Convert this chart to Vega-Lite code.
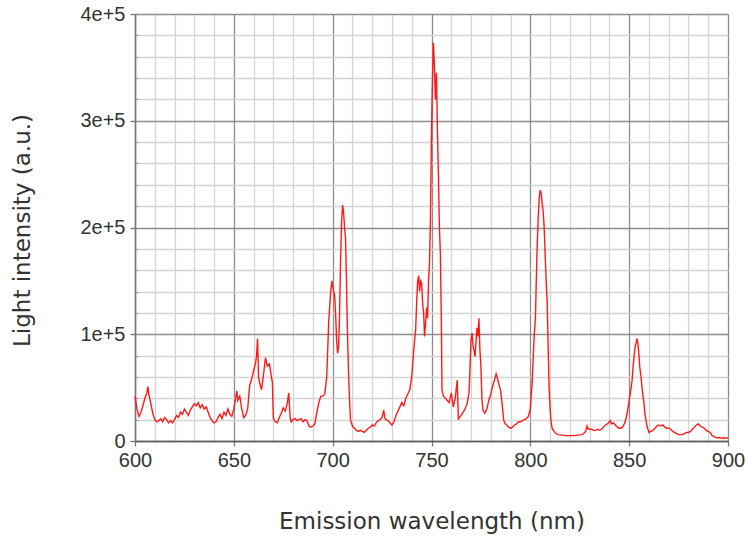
{
  "$schema": "https://vega.github.io/schema/vega-lite/v6.json",
  "autosize": "none",
  "width": 593,
  "height": 427,
  "padding": {"left": 135, "top": 14, "right": 21, "bottom": 97},
  "background": "white",
  "config": {
    "view": {"stroke": null},
    "axis": {"labelFont": "Liberation Sans", "labelFontSize": 20, "labelColor": "#333333", "titleFont": "DejaVu Sans", "titleFontSize": 23, "titleFontWeight": "normal", "titleColor": "#333333", "labelFlush": false, "labelOverlap": false}
  },
  "data": {"values": [
    {"nm":600,"i":42000},{"nm":601,"i":30000},{"nm":602,"i":23000},{"nm":603,"i":27000},{"nm":604,"i":33000},{"nm":605,"i":40000},{"nm":606,"i":45000},{"nm":606.5,"i":51000},{"nm":607,"i":44000},{"nm":608,"i":35000},{"nm":609,"i":26000},{"nm":610,"i":20000},{"nm":611,"i":18000},{"nm":612,"i":19000},{"nm":613,"i":21000},{"nm":614,"i":18000},{"nm":615,"i":22000},{"nm":616,"i":20000},{"nm":617,"i":17000},{"nm":618,"i":19000},{"nm":619,"i":17000},{"nm":620,"i":20000},{"nm":621,"i":24000},{"nm":622,"i":22000},{"nm":623,"i":27000},{"nm":624,"i":25000},{"nm":625,"i":30000},{"nm":626,"i":27000},{"nm":627,"i":24000},{"nm":628,"i":29000},{"nm":629,"i":32000},{"nm":630,"i":35000},{"nm":631,"i":33000},{"nm":632,"i":36000},{"nm":633,"i":31000},{"nm":634,"i":34000},{"nm":635,"i":30000},{"nm":636,"i":32000},{"nm":637,"i":27000},{"nm":638,"i":22000},{"nm":639,"i":19000},{"nm":640,"i":17000},{"nm":641,"i":18000},{"nm":642,"i":22000},{"nm":643,"i":25000},{"nm":644,"i":21000},{"nm":645,"i":27000},{"nm":646,"i":24000},{"nm":647,"i":30000},{"nm":648,"i":25000},{"nm":649,"i":23000},{"nm":650,"i":30000},{"nm":651,"i":41000},{"nm":651.5,"i":47000},{"nm":652,"i":38000},{"nm":653,"i":42000},{"nm":654,"i":30000},{"nm":655,"i":22000},{"nm":656,"i":24000},{"nm":657,"i":30000},{"nm":658,"i":52000},{"nm":659,"i":58000},{"nm":660,"i":66000},{"nm":661,"i":73000},{"nm":661.5,"i":80000},{"nm":662,"i":96000},{"nm":662.5,"i":60000},{"nm":663,"i":55000},{"nm":664,"i":48000},{"nm":665,"i":62000},{"nm":666,"i":78000},{"nm":667,"i":70000},{"nm":668,"i":72000},{"nm":669,"i":60000},{"nm":669.5,"i":55000},{"nm":670,"i":21000},{"nm":671,"i":18000},{"nm":672,"i":17000},{"nm":673,"i":22000},{"nm":674,"i":26000},{"nm":675,"i":31000},{"nm":676,"i":28000},{"nm":677,"i":35000},{"nm":677.8,"i":45000},{"nm":678.5,"i":22000},{"nm":679,"i":18000},{"nm":680,"i":20000},{"nm":681,"i":21000},{"nm":682,"i":19000},{"nm":683,"i":20000},{"nm":684,"i":21000},{"nm":685,"i":18000},{"nm":686,"i":20000},{"nm":687,"i":19000},{"nm":688,"i":14000},{"nm":689,"i":13000},{"nm":690,"i":14000},{"nm":691,"i":16000},{"nm":692,"i":27000},{"nm":693,"i":36000},{"nm":694,"i":42000},{"nm":695,"i":42000},{"nm":696,"i":44000},{"nm":697,"i":60000},{"nm":698,"i":112000},{"nm":699,"i":140000},{"nm":699.6,"i":150000},{"nm":700,"i":145000},{"nm":700.5,"i":140000},{"nm":701,"i":137000},{"nm":701.5,"i":118000},{"nm":702,"i":95000},{"nm":702.5,"i":82000},{"nm":703,"i":88000},{"nm":703.5,"i":120000},{"nm":704,"i":170000},{"nm":704.5,"i":205000},{"nm":705,"i":221000},{"nm":705.5,"i":215000},{"nm":706,"i":200000},{"nm":706.5,"i":190000},{"nm":707,"i":150000},{"nm":707.5,"i":100000},{"nm":708,"i":66000},{"nm":708.5,"i":40000},{"nm":709,"i":20000},{"nm":710,"i":14000},{"nm":711,"i":12000},{"nm":712,"i":10000},{"nm":713,"i":9000},{"nm":714,"i":10000},{"nm":715,"i":9000},{"nm":716,"i":8000},{"nm":717,"i":10000},{"nm":718,"i":12000},{"nm":719,"i":13000},{"nm":720,"i":15000},{"nm":721,"i":14000},{"nm":722,"i":17000},{"nm":723,"i":19000},{"nm":724,"i":20000},{"nm":725,"i":22000},{"nm":725.8,"i":29000},{"nm":726.5,"i":21000},{"nm":727,"i":20000},{"nm":728,"i":19000},{"nm":729,"i":17000},{"nm":730,"i":15000},{"nm":731,"i":18000},{"nm":732,"i":24000},{"nm":733,"i":28000},{"nm":734,"i":32000},{"nm":735,"i":36000},{"nm":736,"i":33000},{"nm":737,"i":40000},{"nm":738,"i":44000},{"nm":739,"i":48000},{"nm":740,"i":60000},{"nm":741,"i":85000},{"nm":742,"i":105000},{"nm":742.5,"i":130000},{"nm":743,"i":150000},{"nm":743.5,"i":155000},{"nm":744,"i":140000},{"nm":744.5,"i":150000},{"nm":745,"i":148000},{"nm":745.5,"i":130000},{"nm":746,"i":120000},{"nm":746.5,"i":98000},{"nm":747,"i":110000},{"nm":747.5,"i":125000},{"nm":748,"i":115000},{"nm":748.5,"i":150000},{"nm":749,"i":167000},{"nm":749.5,"i":210000},{"nm":750,"i":290000},{"nm":750.5,"i":340000},{"nm":751,"i":373000},{"nm":751.5,"i":350000},{"nm":752,"i":320000},{"nm":752.5,"i":345000},{"nm":753,"i":290000},{"nm":753.5,"i":250000},{"nm":754,"i":200000},{"nm":754.5,"i":175000},{"nm":755,"i":110000},{"nm":755.3,"i":48000},{"nm":756,"i":42000},{"nm":757,"i":40000},{"nm":758,"i":38000},{"nm":759,"i":36000},{"nm":760,"i":45000},{"nm":761,"i":32000},{"nm":762,"i":40000},{"nm":763,"i":57000},{"nm":763.6,"i":20000},{"nm":764,"i":22000},{"nm":765,"i":24000},{"nm":766,"i":27000},{"nm":767,"i":30000},{"nm":768,"i":35000},{"nm":769,"i":45000},{"nm":769.5,"i":70000},{"nm":770,"i":95000},{"nm":770.5,"i":101000},{"nm":771,"i":90000},{"nm":771.5,"i":85000},{"nm":772,"i":79000},{"nm":772.5,"i":92000},{"nm":773,"i":106000},{"nm":773.5,"i":98000},{"nm":774,"i":115000},{"nm":774.5,"i":85000},{"nm":775,"i":70000},{"nm":775.5,"i":40000},{"nm":776,"i":29000},{"nm":777,"i":26000},{"nm":778,"i":30000},{"nm":779,"i":38000},{"nm":780,"i":44000},{"nm":781,"i":52000},{"nm":782,"i":58000},{"nm":782.7,"i":63000},{"nm":783.5,"i":58000},{"nm":784,"i":54000},{"nm":785,"i":47000},{"nm":786,"i":30000},{"nm":786.5,"i":20000},{"nm":787,"i":17000},{"nm":788,"i":15000},{"nm":789,"i":13000},{"nm":790,"i":12000},{"nm":791,"i":13000},{"nm":792,"i":15000},{"nm":793,"i":16000},{"nm":794,"i":18000},{"nm":795,"i":18000},{"nm":796,"i":19000},{"nm":797,"i":20000},{"nm":798,"i":21000},{"nm":799,"i":23000},{"nm":800,"i":30000},{"nm":800.9,"i":54000},{"nm":801.5,"i":80000},{"nm":802,"i":100000},{"nm":802.6,"i":116000},{"nm":803,"i":150000},{"nm":803.5,"i":185000},{"nm":804,"i":210000},{"nm":804.5,"i":228000},{"nm":805,"i":235000},{"nm":805.5,"i":232000},{"nm":806,"i":222000},{"nm":806.5,"i":215000},{"nm":807,"i":200000},{"nm":807.5,"i":175000},{"nm":808,"i":150000},{"nm":808.5,"i":132000},{"nm":809,"i":90000},{"nm":809.5,"i":50000},{"nm":810,"i":30000},{"nm":810.5,"i":18000},{"nm":811,"i":12000},{"nm":812,"i":9000},{"nm":813,"i":7000},{"nm":814,"i":6000},{"nm":816,"i":5500},{"nm":818,"i":5000},{"nm":820,"i":5000},{"nm":822,"i":5000},{"nm":824,"i":5500},{"nm":826,"i":6000},{"nm":827,"i":7000},{"nm":828,"i":9000},{"nm":828.7,"i":14000},{"nm":829,"i":12000},{"nm":830,"i":11000},{"nm":831,"i":11000},{"nm":832,"i":10000},{"nm":833,"i":10000},{"nm":834,"i":11000},{"nm":835,"i":10000},{"nm":836,"i":11000},{"nm":837,"i":13000},{"nm":838,"i":15000},{"nm":839,"i":16000},{"nm":840,"i":18000},{"nm":840.5,"i":19000},{"nm":841,"i":16000},{"nm":842,"i":17000},{"nm":843,"i":15000},{"nm":844,"i":13000},{"nm":845,"i":12000},{"nm":846,"i":12000},{"nm":847,"i":14000},{"nm":848,"i":18000},{"nm":849,"i":26000},{"nm":850,"i":38000},{"nm":851,"i":50000},{"nm":851.5,"i":57000},{"nm":852,"i":70000},{"nm":852.5,"i":80000},{"nm":853,"i":88000},{"nm":853.5,"i":92000},{"nm":854,"i":96000},{"nm":854.5,"i":90000},{"nm":855,"i":80000},{"nm":855.3,"i":70000},{"nm":856,"i":60000},{"nm":856.5,"i":50000},{"nm":857,"i":42000},{"nm":857.5,"i":35000},{"nm":858,"i":25000},{"nm":859,"i":14000},{"nm":860,"i":8000},{"nm":861,"i":9000},{"nm":862,"i":10000},{"nm":863,"i":12000},{"nm":864,"i":14000},{"nm":865,"i":15000},{"nm":866,"i":14000},{"nm":867,"i":15000},{"nm":868,"i":13000},{"nm":869,"i":12000},{"nm":870,"i":12000},{"nm":871,"i":11000},{"nm":872,"i":9000},{"nm":873,"i":8000},{"nm":874,"i":7000},{"nm":875,"i":6000},{"nm":876,"i":6000},{"nm":877,"i":6000},{"nm":878,"i":7000},{"nm":879,"i":8000},{"nm":880,"i":8000},{"nm":881,"i":9000},{"nm":882,"i":11000},{"nm":883,"i":13000},{"nm":884,"i":15000},{"nm":885,"i":16000},{"nm":886,"i":14000},{"nm":887,"i":13000},{"nm":888,"i":12000},{"nm":889,"i":10000},{"nm":890,"i":9000},{"nm":891,"i":8000},{"nm":892,"i":5000},{"nm":893,"i":4000},{"nm":894,"i":3000},{"nm":895,"i":3000},{"nm":896,"i":3000},{"nm":897,"i":2500},{"nm":898,"i":3000},{"nm":899,"i":2500},{"nm":900,"i":3000}
  ]},
  "resolve": {"axis": {"x": "independent", "y": "independent"}},
  "layer": [
    {
      "mark": {"type": "line", "strokeOpacity": 0},
      "encoding": {
        "x": {"field": "nm", "type": "quantitative", "scale": {"domain": [600, 900], "nice": false},
          "axis": {"orient": "bottom", "values": [610,620,630,640,660,670,680,690,710,720,730,740,760,770,780,790,810,820,830,840,860,870,880,890], "labels": false, "ticks": false, "domain": false, "grid": true, "gridColor": "#d4d4d4", "gridWidth": 1.3, "title": null}},
        "y": {"field": "i", "type": "quantitative", "scale": {"domain": [0, 400000], "nice": false},
          "axis": {"orient": "left", "values": [20000,40000,60000,80000,120000,140000,160000,180000,220000,240000,260000,280000,320000,340000,360000,380000], "labels": false, "ticks": true, "tickSize": -3, "tickColor": "#999999", "domain": false, "grid": true, "gridColor": "#d4d4d4", "gridWidth": 1.3, "title": null}}
      }
    },
    {
      "mark": {"type": "line", "color": "#ff1a1a", "strokeWidth": 1.4},
      "encoding": {
        "x": {"field": "nm", "type": "quantitative", "scale": {"domain": [600, 900], "nice": false},
          "axis": {"orient": "bottom", "values": [600,650,700,750,800,850,900], "format": "d", "grid": true, "gridColor": "#8c8c8c", "gridWidth": 1.3, "domain": true, "domainColor": "#555555", "domainWidth": 1.5, "tickColor": "#777777", "tickSize": 5, "tickWidth": 1.3, "labelPadding": 4,
            "title": "Emission wavelength (nm)", "titleX": 296.5, "titleY": 80, "titleAlign": "center", "titleBaseline": "middle"}},
        "y": {"field": "i", "type": "quantitative", "scale": {"domain": [0, 400000], "nice": false},
          "axis": {"orient": "left", "values": [0,100000,200000,300000,400000], "labelExpr": "datum.value == 0 ? '0' : format(datum.value/100000, 'd') + 'e+5'", "grid": true, "gridColor": "#8c8c8c", "gridWidth": 1.3, "domain": true, "domainColor": "#777777", "domainWidth": 1.5, "tickColor": "#777777", "tickSize": 5, "tickWidth": 1.3, "labelPadding": 5,
            "title": "Light intensity (a.u.)", "titleX": -113, "titleY": 216, "titleAlign": "center", "titleBaseline": "middle", "titleAngle": -90}}
      }
    }
  ]
}
